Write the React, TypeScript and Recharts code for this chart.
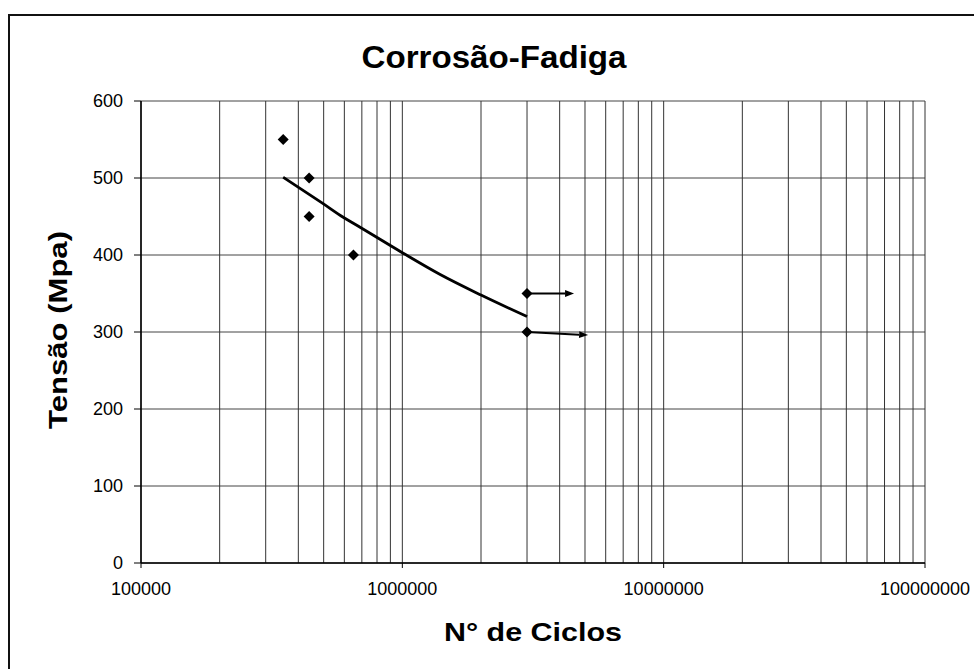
import React from 'react';
import {
  ComposedChart, XAxis, YAxis, CartesianGrid, Line, Scatter, ReferenceLine,
} from 'recharts';

// ---- data ----
const chartTitle = 'Corrosão-Fadiga';
const xTitle = 'N° de Ciclos';
const yTitle = 'Tensão (Mpa)';

const xTicks = [100000, 1000000, 10000000, 100000000];
const yTicks = [0, 100, 200, 300, 400, 500, 600];

// minor log grid: decades x multipliers
const gridDecades = [100000, 1000000, 10000000];
const gridMultipliers = [1, 2, 3, 4, 5, 6, 7, 8, 9];
const gridValues = [
  ...gridDecades.flatMap((d) => gridMultipliers.map((m) => d * m)),
  100000000,
];

// measured points (ciclos, tensão)
const pointsN = [350000, 440000, 440000, 650000, 3000000, 3000000];
const pointsS = [550, 500, 450, 400, 350, 300];

// trend curve
const trendN = [350000, 496000, 594000, 689000, 1000000, 1390000, 2000000, 3000000];
const trendS = [501, 467, 449, 436, 403, 375, 348, 320];

// run-out arrows: start and end
const arrowStartN = [3000000, 3000000];
const arrowStartS = [350, 300];
const arrowEndN = [4540000, 5140000];
const arrowEndS = [350, 296];

const pointData = pointsN.map((n, i) => ({ n, s: pointsS[i] }));
const trendData = trendN.map((n, i) => ({ n, s: trendS[i] }));

const FONT = '"Liberation Sans", Arial, sans-serif';

const Diamond = (props: any) => {
  const { cx, cy } = props;
  if (cx == null || cy == null) return null;
  const r = 5.5;
  return (
    <polygon
      points={`${cx},${cy - r} ${cx + r},${cy} ${cx},${cy + r} ${cx - r},${cy}`}
      fill="#000"
    />
  );
};

const ArrowShape = (props: any) => {
  const { x1, y1, x2, y2 } = props;
  if ([x1, y1, x2, y2].some((v) => v == null || isNaN(v))) return null;
  const dx = x2 - x1;
  const dy = y2 - y1;
  const len = Math.sqrt(dx * dx + dy * dy) || 1;
  const ux = dx / len;
  const uy = dy / len;
  const head = 9;
  const hw = 3.5;
  const bx = x2 - ux * head;
  const by = y2 - uy * head;
  return (
    <g>
      <line x1={x1} y1={y1} x2={bx} y2={by} stroke="#000" strokeWidth={2} />
      <polygon
        points={`${x2},${y2} ${bx - uy * hw},${by + ux * hw} ${bx + uy * hw},${by - ux * hw}`}
        fill="#000"
      />
    </g>
  );
};

export default function App() {
  return (
    <div style={{ position: 'absolute', left: 0, top: 0, width: 974, height: 669, background: '#fff' }}>
      <div
        style={{
          position: 'absolute', left: 8, top: 14, width: 980, height: 680,
          borderLeft: '2px solid #111', borderTop: '2px solid #111', boxSizing: 'border-box',
        }}
      />
      <div style={{ position: 'absolute', left: 0, top: 0 }}>
        <ComposedChart
          width={974}
          height={669}
          margin={{ top: 101, right: 49, left: 81, bottom: 66 }}
        >
          <CartesianGrid vertical={false} stroke="#444" strokeWidth={1} />
          {gridValues.map((v) => (
            <ReferenceLine key={v} x={v} stroke="#333" strokeWidth={1} ifOverflow="extendDomain" />
          ))}
          <XAxis
            dataKey="n"
            type="number"
            scale="log"
            domain={[100000, 100000000]}
            ticks={xTicks}
            allowDataOverflow
            height={40}
            tickSize={5}
            tickMargin={14}
            axisLine={{ stroke: '#000', strokeWidth: 1.5 }}
            tickLine={{ stroke: '#000' }}
            tick={{ fill: '#000', fontSize: 18, fontFamily: FONT }}
            interval={0}
          />
          <YAxis
            dataKey="s"
            type="number"
            domain={[0, 600]}
            ticks={yTicks}
            width={60}
            tickSize={7}
            tickMargin={11}
            axisLine={{ stroke: '#000', strokeWidth: 1.5 }}
            tickLine={{ stroke: '#000' }}
            tick={{ fill: '#000', fontSize: 18, fontFamily: FONT }}
            interval={0}
          />
          <Line
            data={trendData}
            dataKey="s"
            type="monotone"
            stroke="#000"
            strokeWidth={2.8}
            dot={false}
            activeDot={false}
            isAnimationActive={false}
          />
          <Scatter
            data={pointData}
            dataKey="s"
            shape={<Diamond />}
            isAnimationActive={false}
          />
          {arrowStartN.map((n, i) => (
            <ReferenceLine
              key={'a' + i}
              segment={[
                { x: n, y: arrowStartS[i] },
                { x: arrowEndN[i], y: arrowEndS[i] },
              ]}
              shape={<ArrowShape />}
            />
          ))}
        </ComposedChart>
      </div>
      <svg
        width={974}
        height={669}
        style={{ position: 'absolute', left: 0, top: 0, pointerEvents: 'none' }}
      >
        <text x={494} y={68} textAnchor="middle" fontFamily={FONT} fontWeight="bold" fontSize={32} fill="#000"
          textLength={265} lengthAdjust="spacingAndGlyphs">
          {chartTitle}
        </text>
        <text x={533} y={641} textAnchor="middle" fontFamily={FONT} fontWeight="bold" fontSize={26} fill="#000"
          textLength={178} lengthAdjust="spacingAndGlyphs">
          {xTitle}
        </text>
        <text x={67} y={330} textAnchor="middle" fontFamily={FONT} fontWeight="bold" fontSize={26} fill="#000"
          transform="rotate(-90, 67, 330)" textLength={198} lengthAdjust="spacingAndGlyphs">
          {yTitle}
        </text>
      </svg>
    </div>
  );
}
